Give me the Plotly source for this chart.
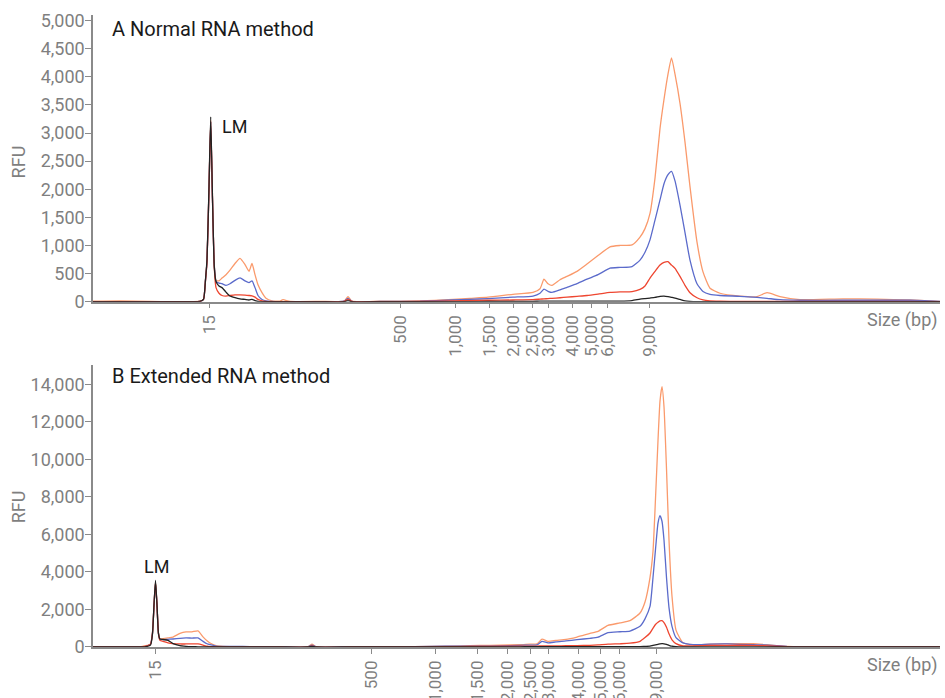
import plotly.graph_objects as go

# ---------------- data ----------------
ladder_labels = ["15", "500", "1,000", "1,500", "2,000", "2,500", "3,000", "4,000", "5,000", "6,000", "9,000"]
ladder_pos_a = [116.3, 307.7, 362, 396, 420.3, 439.7, 455.3, 479.7, 498, 514.7, 556.3]
ladder_pos_b = [62, 278.3, 342.2, 384.7, 414.2, 437.2, 455.9, 485.4, 507.2, 526.3, 563.1]

# Panel A: Normal RNA method (migration position, RFU)
pos_a = [0, 27, 57, 97, 107, 110.5, 112.5, 114, 116, 117.7,
         119.5, 121.3, 123, 126, 129, 133, 137, 142, 147, 152,
         156, 159, 162, 165, 169, 173, 179, 187, 190, 197,
         227, 251, 255, 259, 287, 327, 360, 377, 395, 420,
         440, 447, 451, 455, 459, 467, 474, 484, 494, 505,
         517, 527, 539, 547, 552, 557, 562, 567, 571, 575,
         578.5, 582, 587, 592, 597, 604, 610, 617, 627, 647,
         664, 674, 687, 707, 750, 784, 817, 847]
orange_a = [10, 15, 5, 0, 10, 40, 380, 720, 2000, 3230,
            1850, 650, 380, 370, 420, 480, 560, 680, 770, 660,
            540, 680, 480, 300, 160, 60, 15, 10, 35, 5,
            5, 10, 90, 10, 10, 15, 40, 60, 80, 130,
            165, 230, 400, 320, 290, 390, 450, 540, 670, 820,
            975, 1000, 1010, 1150, 1300, 1570, 2200, 3080, 3600, 4050,
            4340, 4050, 3530, 2840, 2046, 1060, 530, 240, 150, 100,
            90, 160, 90, 35, 50, 45, 30, 5]
blue_a = [0, 0, 0, 0, 5, 40, 380, 720, 2000, 3200,
          1800, 640, 360, 330, 320, 290, 320, 380, 425, 370,
          340, 370, 250, 110, 40, 15, 5, 0, 0, 0,
          0, 10, 60, 5, 5, 10, 30, 40, 55, 80,
          100, 150, 225, 185, 165, 210, 255, 320, 400, 480,
          595, 610, 625, 740, 880, 1100, 1450, 1810, 2100, 2260,
          2320, 2150, 1720, 1230, 740, 320, 180, 130, 110, 95,
          75, 60, 35, 25, 25, 25, 25, 5]
red_a = [0, 0, 0, 0, 5, 40, 380, 720, 2000, 3200,
         1800, 600, 250, 150, 110, 100, 110, 120, 120, 115,
         110, 105, 80, 40, 15, 5, 0, 0, 0, 0,
         0, 5, 40, 5, 0, 5, 15, 20, 25, 30,
         35, 45, 50, 55, 60, 70, 80, 95, 110, 135,
         165, 175, 180, 220, 280, 420, 540, 653, 700, 712,
         650, 594, 450, 290, 160, 70, 30, 15, 10, 5,
         5, 5, 5, 5, 5, 5, 5, 0]
black_a = [0, 0, 0, 0, 5, 40, 400, 750, 2050, 3290,
           1850, 620, 360, 280, 250, 170, 100, 70, 50, 40,
           30, 40, 20, 5, 0, 0, 0, 0, 0, 0,
           0, 0, 20, 0, 0, 0, 0, 0, 5, 5,
           5, 10, 10, 10, 10, 10, 10, 10, 10, 10,
           10, 10, 20, 45, 55, 65, 75, 95, 100, 90,
           78, 65, 40, 15, 5, 0, 0, 0, 0, 0,
           0, 0, 0, 0, 0, 0, 0, 0]

# Panel B: Extended RNA method
pos_b = [0, 27, 47, 52, 57.5, 59.5, 61, 62.5, 64, 65.5,
         67, 70, 75, 80, 87, 93, 99, 105, 110, 114,
         117, 123, 130, 142, 157, 187, 215, 219, 223, 257,
         307, 337, 367, 387, 407, 427, 437, 444, 449, 455,
         463, 473, 484, 497, 505, 515, 527, 537, 547, 552,
         557, 560, 562.5, 565, 567, 569, 571, 573.5, 576, 579,
         583, 590, 600, 617, 634, 660, 674, 694, 707, 757,
         847]
orange_b = [0, 0, 10, 60, 150, 750, 2200, 3450, 2200, 750,
            440, 440, 480, 530, 720, 800, 810, 860, 540, 330,
            210, 70, 30, 15, 5, 0, 10, 150, 10, 0,
            10, 30, 60, 80, 100, 120, 150, 160, 420, 300,
            350, 400, 530, 720, 830, 1150, 1280, 1400, 1810, 2400,
            3700, 5100, 7900, 11000, 13100, 13870, 12800, 9500, 5700, 2700,
            900, 220, 120, 150, 175, 175, 120, 30, 5, 0,
            0]
blue_b = [0, 0, 0, 20, 150, 750, 2200, 3400, 2200, 700,
          400, 390, 410, 425, 460, 480, 475, 480, 300, 170,
          120, 50, 30, 30, 20, 5, 5, 100, 5, 5,
          10, 30, 50, 40, 60, 90, 100, 110, 300, 215,
          270, 320, 390, 460, 520, 760, 810, 850, 1100, 1500,
          2160, 3700, 5200, 6600, 7000, 6700, 5700, 3700, 2100, 1100,
          500, 215, 120, 150, 160, 120, 100, 30, 10, 0,
          0]
red_b = [0, 0, 0, 30, 150, 750, 2200, 3450, 2200, 700,
         350, 300, 220, 180, 160, 160, 160, 160, 100, 40,
         20, 10, 0, 0, 0, 0, 0, 60, 0, 0,
         0, 10, 20, 30, 40, 40, 45, 50, 55, 55,
         60, 65, 75, 90, 110, 150, 170, 200, 300, 500,
         745, 1000, 1200, 1320, 1390, 1400, 1300, 1050, 700, 380,
         180, 60, 60, 80, 90, 90, 60, 20, 0, 0,
         0]
black_b = [0, 0, 0, 10, 100, 700, 2250, 3545, 2250, 700,
           420, 400, 350, 180, 70, 35, 15, 10, 0, 0,
           0, 0, 0, 0, 0, 0, 0, 30, 0, 0,
           0, 0, 5, 5, 10, 10, 15, 15, 15, 15,
           15, 15, 15, 15, 15, 15, 15, 15, 20, 30,
           40, 80, 110, 140, 165, 175, 170, 140, 90, 40,
           15, 0, 0, 0, 0, 0, 0, 0, 0, 0,
           0]

series_colors = {"orange": "#FA9A6C", "blue": "#5B6BCB", "red": "#EE4630", "black": "#222222"}

# ---------------- figure ----------------
GREY = "#7f7f7f"
AXC = "#8a8a8a"
FONT = "Roboto"

fig = go.Figure()
for name, xs, ys, ax in [
    ("orange", pos_a, orange_a, 1), ("blue", pos_a, blue_a, 1),
    ("red", pos_a, red_a, 1), ("black", pos_a, black_a, 1),
    ("orange", pos_b, orange_b, 2), ("blue", pos_b, blue_b, 2),
    ("red", pos_b, red_b, 2), ("black", pos_b, black_b, 2),
]:
    fig.add_trace(go.Scatter(
        x=xs, y=ys, mode="lines", name=name, showlegend=False,
        line=dict(color=series_colors[name], width=1.3, shape="spline", smoothing=0.5),
        xaxis="x" if ax == 1 else "x2", yaxis="y" if ax == 1 else "y2",
        hoverinfo="skip",
    ))

xcommon = dict(range=[0, 847], showgrid=False, zeroline=False, showline=True, automargin=False,
               linecolor=AXC, linewidth=1.5, ticks="outside", ticklen=5,
               tickcolor=AXC, tickwidth=1.2, tickangle=-90,
               tickfont=dict(family=FONT, size=17, color=GREY), tickmode="array",
               ticktext=ladder_labels)
ycommon = dict(showgrid=False, zeroline=False, showline=True, automargin=False, linecolor=AXC,
               linewidth=1.5, ticks="outside", ticklen=6, tickcolor=AXC, tickwidth=1.2,
               tickfont=dict(family=FONT, size=18, color=GREY), tickformat=",",
               ticklabelstandoff=-3)

fig.update_layout(
    width=945, height=698, autosize=False,
    margin=dict(l=93, r=5, t=0, b=0, pad=0),
    paper_bgcolor="white", plot_bgcolor="white",
    font=dict(family=FONT, color=GREY),
    xaxis=dict(domain=[0, 1], anchor="y", tickvals=ladder_pos_a, **xcommon),
    yaxis=dict(domain=[0.5678, 0.9784], anchor="x", range=[0, 5100], dtick=500, **ycommon),
    xaxis2=dict(domain=[0, 1], anchor="y2", tickvals=ladder_pos_b, **xcommon),
    yaxis2=dict(domain=[0.0731, 0.4764], anchor="x2", range=[0, 15000],
                tickvals=[0, 2000, 4000, 6000, 8000, 10000, 12000, 14000], **ycommon),
)

ann = []
for yr, xr, title, ypos, rfu_y in [("y", "x", "A Normal RNA method", 0.9505, 0.486),
                                   ("y2", "x2", "B Extended RNA method", 0.964, 0.496)]:
    ann.append(dict(text=title, xref=f"{xr} domain", yref=f"{yr} domain", x=0.02, y=ypos,
                    xanchor="left", yanchor="middle", showarrow=False,
                    font=dict(family=FONT, size=20, color="#1a1a1a")))
    ann.append(dict(text="RFU", xref=f"{xr} domain", yref=f"{yr} domain", x=0, xshift=-75,
                    y=rfu_y, xanchor="center", yanchor="middle", textangle=-90, showarrow=False,
                    font=dict(family=FONT, size=18, color=GREY)))
    ann.append(dict(text="Size (bp)", xref=f"{xr} domain", yref=f"{yr} domain", x=1, y=0,
                    xanchor="right", yanchor="top", yshift=-5, showarrow=False,
                    font=dict(family=FONT, size=18, color=GREY)))
ann.append(dict(text="LM", xref="x", yref="y", x=127, y=3110, xanchor="left", yanchor="middle",
                showarrow=False, font=dict(family=FONT, size=18, color="#1a1a1a")))
ann.append(dict(text="LM", xref="x2", yref="y2", x=63.5, y=4290, xanchor="center", yanchor="middle",
                showarrow=False, font=dict(family=FONT, size=18, color="#1a1a1a")))
fig.update_layout(annotations=ann)

fig.write_html("out.html", config={"displayModeBar": False},
               post_script="document.body.style.margin='0';document.body.style.overflow='hidden';")
